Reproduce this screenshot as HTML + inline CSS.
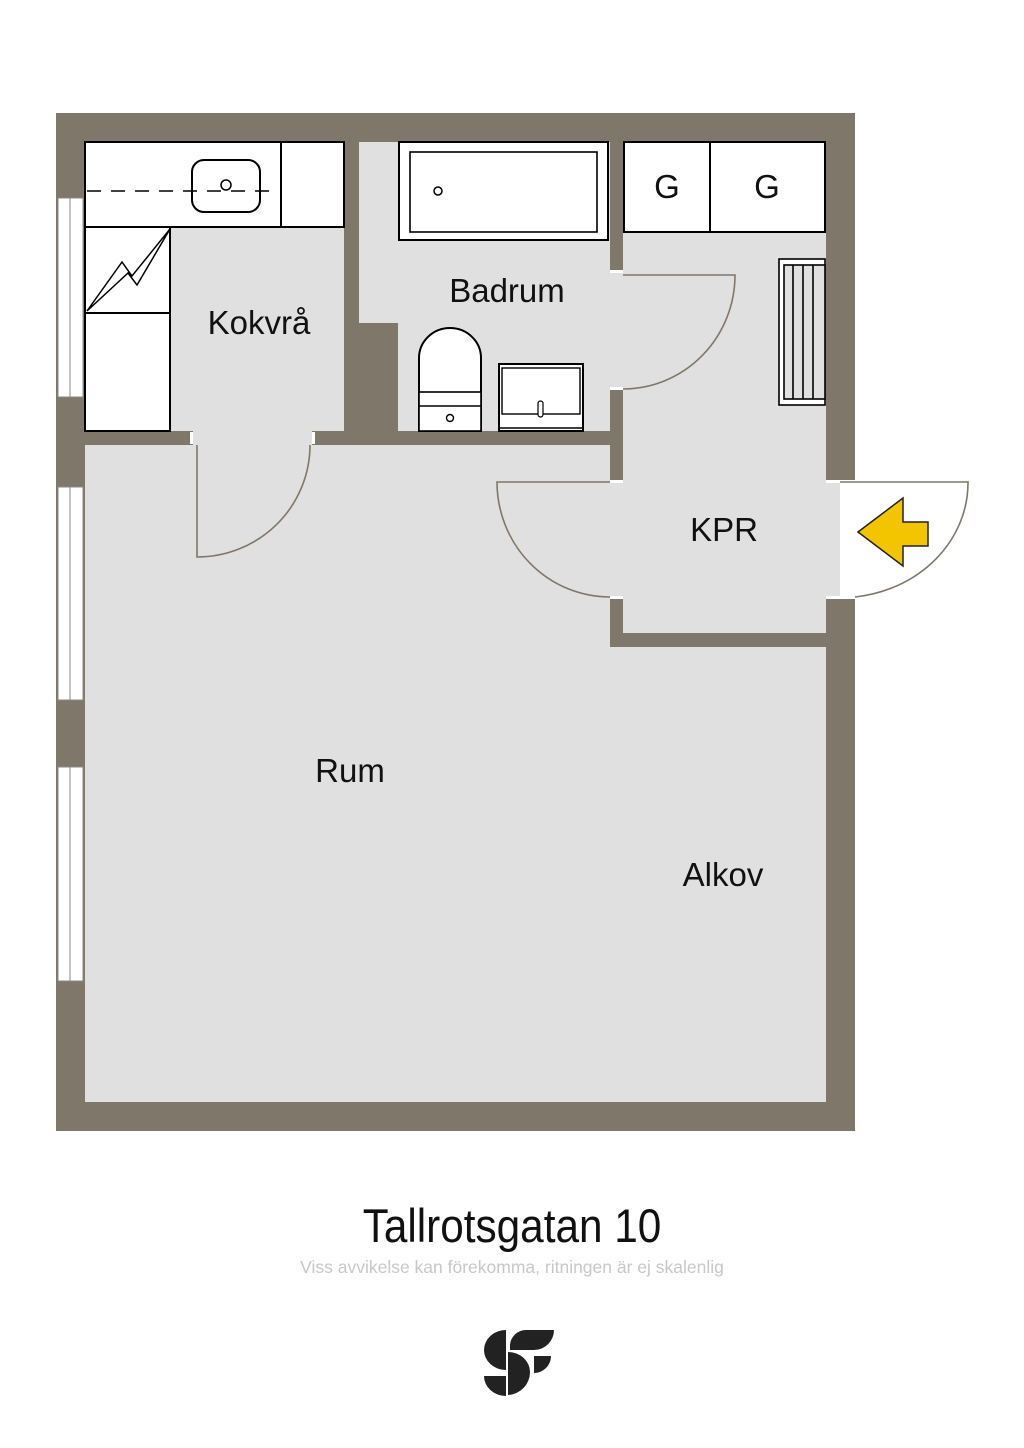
<!DOCTYPE html>
<html><head><meta charset="utf-8"><style>
html,body{margin:0;padding:0;background:#fff}
svg{display:block}
text{font-family:"Liberation Sans",sans-serif}
</style></head><body>
<svg width="1024" height="1448" viewBox="0 0 1024 1448" xmlns="http://www.w3.org/2000/svg">
<rect width="1024" height="1448" fill="#fff"/>
<rect x="56" y="113" width="799" height="1018" fill="#7f786a"/>
<rect x="85" y="142" width="741" height="960" fill="#e0e0e0"/>
<g fill="#fff" stroke="#888" stroke-width="1">
<rect x="58" y="198" width="25" height="199"/><line x1="70" y1="198" x2="70" y2="397"/>
<rect x="58" y="487" width="25" height="213"/><line x1="70" y1="487" x2="70" y2="700"/>
<rect x="58" y="767" width="25" height="214"/><line x1="70" y1="767" x2="70" y2="981"/>
</g>
<g fill="#7f786a">
<rect x="344" y="142" width="15" height="303"/>
<rect x="344" y="323" width="54" height="122"/>
<rect x="85" y="431" width="108" height="14"/>
<rect x="312" y="431" width="311" height="14"/>
<rect x="610" y="142" width="13" height="130"/>
<rect x="610" y="389" width="13" height="93"/>
<rect x="610" y="597" width="13" height="50"/>
<rect x="610" y="633" width="216" height="14"/>
</g>
<rect x="826" y="482" width="30" height="115" fill="#e0e0e0"/>
<path d="M840 482 L968 482 A128 115 0 0 1 840 597 Z" fill="#fff"/>
<rect x="826" y="482" width="14" height="115" fill="#e0e0e0"/>
<g fill="#fff"><rect x="190" y="432" width="3" height="12"/><rect x="312" y="432" width="3" height="12"/>
<rect x="610" y="270" width="13" height="3"/><rect x="610" y="387" width="13" height="3"/>
<rect x="610" y="480" width="13" height="3"/><rect x="610" y="596" width="13" height="3"/>
<rect x="826" y="480" width="29" height="3"/><rect x="826" y="596" width="29" height="3"/></g>
<g fill="none" stroke="#7f786a" stroke-width="1.6">
<path d="M197 445 L197 557 A113 112 0 0 0 310 445"/>
<path d="M623 275 L735 275 A112 114 0 0 1 623 389"/>
<path d="M610 482 L497 482 A113 115 0 0 0 610 597"/>
<path d="M840 482 L968 482 A128 115 0 0 1 855 597"/>
</g>
<g fill="#fff" stroke="#000" stroke-width="2">
<rect x="85" y="142" width="259" height="85"/>
<line x1="281" y1="142" x2="281" y2="227"/>
<rect x="192" y="160" width="68" height="52" rx="12"/>
<rect x="85" y="227" width="85" height="86"/>
<rect x="85" y="313" width="85" height="118"/>
</g>
<line x1="87" y1="191" x2="275" y2="191" stroke="#000" stroke-width="1.6" stroke-dasharray="14,10"/>
<circle cx="226" cy="185" r="5" fill="#fff" stroke="#000" stroke-width="1.5"/>
<path d="M87 311 L122 262 L132 276 L170 229 L137 285 L128 273 Z" fill="none" stroke="#000" stroke-width="1.5" stroke-linejoin="miter"/>
<g fill="#fff" stroke="#000" stroke-width="2">
<rect x="399" y="142" width="209" height="98"/>
<rect x="410" y="152" width="187" height="80" stroke-width="1.6"/>
<path d="M419 431 L419 358 A31 30 0 0 1 481 358 L481 431 Z"/>
<rect x="419" y="392" width="62" height="39" stroke-width="1.6"/>
<line x1="419" y1="406" x2="481" y2="406" stroke-width="1.6"/>
<rect x="499" y="364" width="84" height="67"/>
<rect x="502" y="368" width="78" height="46" stroke-width="1.4"/>
<line x1="499" y1="428" x2="583" y2="428" stroke-width="1.4"/>
<rect x="538" y="401" width="5" height="16" rx="2.5" stroke-width="1.2"/>
</g>
<circle cx="438" cy="191" r="4" fill="#fff" stroke="#000" stroke-width="1.5"/>
<circle cx="450" cy="418" r="3.5" fill="#fff" stroke="#000" stroke-width="1.4"/>
<g fill="#fff" stroke="#000" stroke-width="2">
<rect x="624" y="142" width="201" height="90"/>
<line x1="710" y1="142" x2="710" y2="232"/>
</g>
<g fill="#fff" stroke="#000" stroke-width="1.6">
<rect x="779" y="259" width="46" height="146"/>
<rect x="784" y="265" width="41" height="134" fill="#e0e0e0"/>
<line x1="793" y1="265" x2="793" y2="399"/><line x1="803" y1="265" x2="803" y2="399"/><line x1="813" y1="265" x2="813" y2="399"/>
</g>
<polygon points="858,532 903,498 903,522 928,522 928,546 903,546 903,566" fill="#f2c500" stroke="#222" stroke-width="1.5"/>
<g font-size="33" fill="#111" text-anchor="middle">
<text x="667" y="198">G</text><text x="767" y="198">G</text>
<text x="259" y="334">Kokvrå</text>
<text x="507" y="302">Badrum</text>
<text x="724" y="541">KPR</text>
<text x="350" y="782">Rum</text>
<text x="723" y="886">Alkov</text>
</g>
<text x="512" y="1242" font-size="47" text-anchor="middle" fill="#111" style="font-family:'Liberation Sans Narrow','Liberation Sans',sans-serif" transform="translate(512 0) scale(0.9 1) translate(-512 0)">Tallrotsgatan 10</text>
<text x="512" y="1273" font-size="17.5" text-anchor="middle" fill="#c8c8c8">Viss avvikelse kan förekomma, ritningen är ej skalenlig</text>
<g fill="#222">
<path d="M506 1330 A22 20 0 0 0 484 1350 A22 20 0 0 0 506 1370 Z"/>
<path d="M508 1372 L508 1395 A23 23 0 0 0 530 1372 A22 20 0 0 0 508 1352 Z"/>
<path d="M484 1376 L506 1376 L506 1396 A22 20 0 0 1 484 1376 Z"/>
<path d="M510 1350 L510 1345 A16 16 0 0 1 526 1330 L554 1330 A20 20 0 0 1 534 1350 Z"/>
<path d="M534 1356 L551 1356 A17 17 0 0 1 534 1373 Z"/>
</g>
</svg>
</body></html>
